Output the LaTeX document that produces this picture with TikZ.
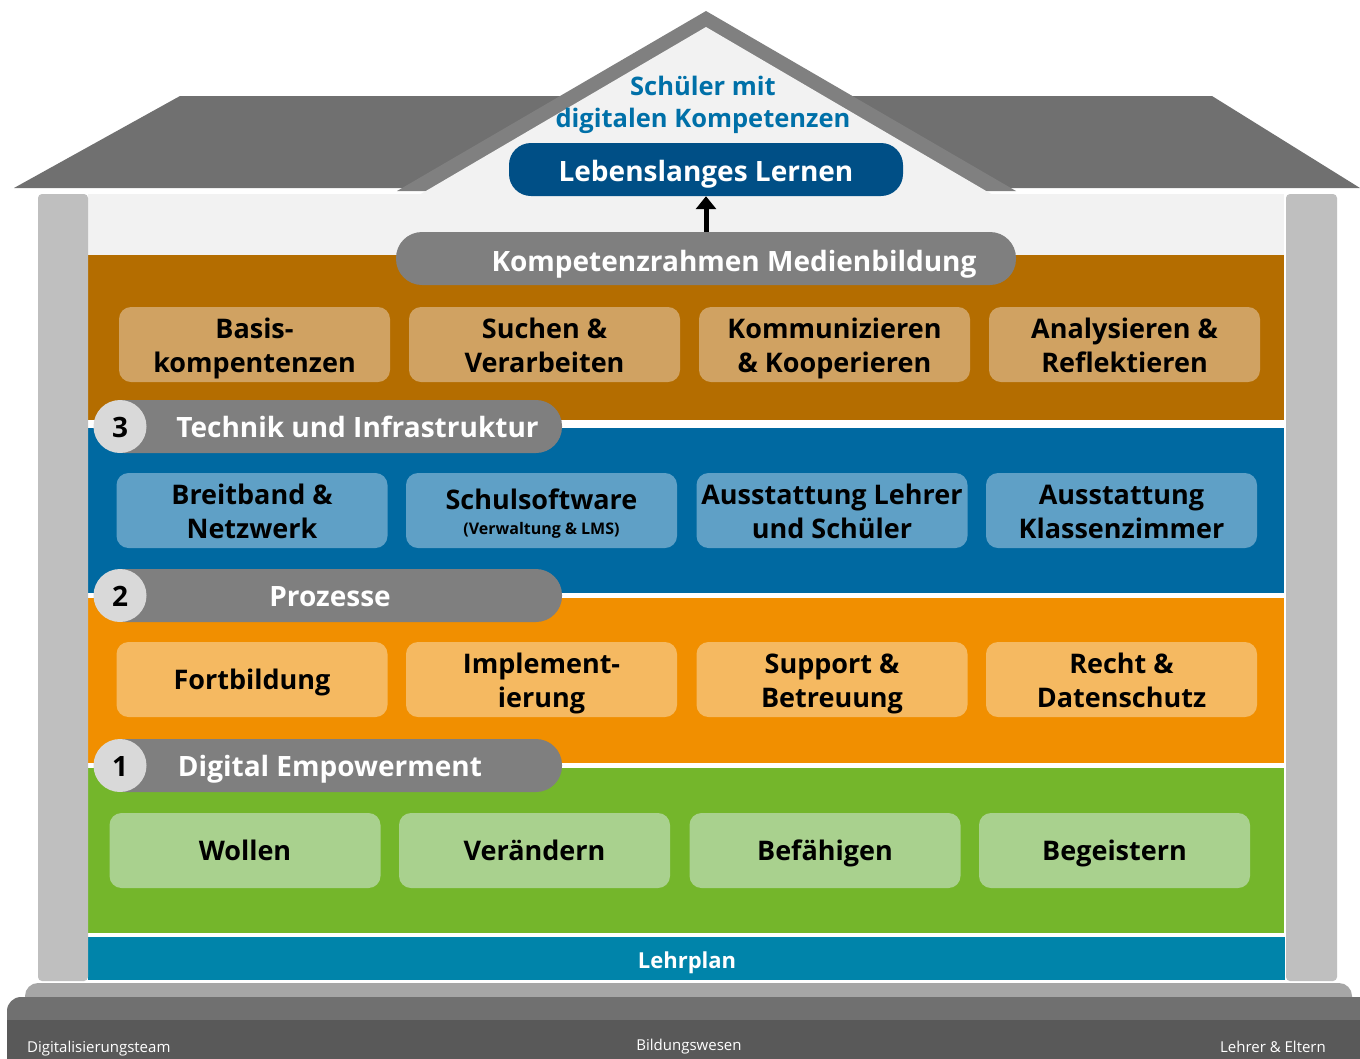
\documentclass[tikz,border=0pt]{standalone}
\usepackage{fontspec}
\setmainfont{Open Sans}
\usetikzlibrary{arrows.meta}
\definecolor{roofc}{HTML}{707070}
\definecolor{gablec}{HTML}{808080}
\definecolor{panelc}{HTML}{F2F2F2}
\definecolor{pillarc}{HTML}{BFBFBF}
\definecolor{brownband}{HTML}{B46D00}
\definecolor{brownbox}{HTML}{D0A262}
\definecolor{blueband}{HTML}{0069A1}
\definecolor{bluebox}{HTML}{5FA0C6}
\definecolor{orangeband}{HTML}{F18F00}
\definecolor{orangebox}{HTML}{F5B961}
\definecolor{greenband}{HTML}{74B62B}
\definecolor{greenbox}{HTML}{A9D18E}
\definecolor{lehrc}{HTML}{0084AA}
\definecolor{pillc}{HTML}{7F7F7F}
\definecolor{badgec}{HTML}{D9D9D9}
\definecolor{lebenc}{HTML}{004F86}
\definecolor{titlec}{HTML}{0070A8}
\definecolor{baseA}{HTML}{A6A6A6}
\definecolor{baseB}{HTML}{707070}
\definecolor{baseC}{HTML}{595959}
\newcommand\bxf{\fontsize{27}{34}\selectfont\bfseries}
\newcommand\pif{\fontsize{28}{34}\selectfont\bfseries}
\newcommand\lift{\rule{0pt}{30pt}}
\newcommand\lone{\rule{0pt}{28.5pt}}
\newcommand\dn{\rule[-8pt]{0pt}{8pt}}
\begin{document}
\begin{tikzpicture}[x=1pt,y=-1pt,
  box/.style={rounded corners=12pt, minimum width=271pt, minimum height=75pt, inner sep=0pt,
    align=center, font=\bxf, text=black},
  pill/.style={fill=pillc, rounded corners=26pt, minimum height=53pt, inner sep=0pt},
  pilltext/.style={anchor=base, text=white, font=\pif, inner sep=0pt},
  badge/.style={circle, fill=badgec, minimum size=53pt, inner sep=0pt},
  num/.style={anchor=base, font=\pif, text=black, inner sep=0pt},
  basetext/.style={anchor=base, text=white, font=\fontsize{15}{18}\selectfont, inner sep=0pt}
]
\useasboundingbox (0,0) rectangle (1360,1058);
\fill[white] (0,0) rectangle (1360,1058);
% roof
\fill[roofc] (14,188) -- (180,96) -- (1212,96) -- (1360,188) -- cycle;
% interior panel
\fill[panelc] (88,194) rectangle (1284,255);
% gable
\fill[gablec] (397,191) -- (706,11) -- (1016,191) -- cycle;
\fill[panelc] (419,195) -- (706,27) -- (993,195) -- cycle;
% bands
\fill[brownband] (88,255) rectangle (1284,420);
\fill[blueband] (88,428) rectangle (1284,593);
\fill[orangeband] (88,598) rectangle (1284,763);
\fill[greenband] (88,768) rectangle (1284,933);
\fill[lehrc] (88,937) rectangle (1285,980);
% pillars
\fill[pillarc, rounded corners=4pt] (38,194) rectangle (88,981);
\fill[pillarc, rounded corners=4pt] (1286,194) rectangle (1337,981);
% base
\fill[baseA, rounded corners=13pt] (25,983) rectangle (1352,1012);
\fill[baseB, rounded corners=14pt] (7,997) rectangle (1390,1090);
\fill[baseC] (7,1020) rectangle (1390,1090);

% top
\node[fill=lebenc, rounded corners=22pt, minimum width=394pt, minimum height=53pt, inner sep=0pt] (leb) at (706,169.5) {};
\node[pilltext] (lebt) at (706,181) {Lebenslanges Lernen};
\node[text=titlec, font=\fontsize{25.5}{32}\selectfont\bfseries, align=center, inner sep=0pt] (title) at (703,105) {Schüler mit\\digitalen Kompetenzen};
\node[pill, minimum width=620pt] (komp) at (706,258.5) {};
\node[pilltext] (kompt) at (734,271) {Kompetenzrahmen Medienbildung};
\draw[line width=5pt, -{Triangle[width=20pt,length=13pt]}] (komp.north) -- (leb.south);

% brown row
\node[box, fill=brownbox] (b1) at (254.5,344.5) {\lift Basis-\\kompentenzen\dn};
\node[box, fill=brownbox] (b2) at (544.5,344.5) {\lift Suchen \&\\Verarbeiten\dn};
\node[box, fill=brownbox] (b3) at (834.5,344.5) {\lift Kommunizieren\\\& Kooperieren\dn};
\node[box, fill=brownbox] (b4) at (1124.5,344.5) {\lift Analysieren \&\\Reflektieren\dn};

% level 3
\node[pill, minimum width=464pt] (p3) at (330,426.5) {};
\node[badge] (c3) at (120,426.5) {};
\node[num] (n3) at (120,437) {3};
\node[pilltext] (t3) at (357.5,437) {Technik und Infrastruktur};
\node[box, fill=bluebox] (s1) at (252,510.5) {\lift Breitband \&\\Netzwerk\dn};
\node[box, fill=bluebox] (s2) at (541.5,510.5) {\lift Schulsoftware\\[-9pt]{\fontsize{16}{18}\selectfont (Verwaltung \& LMS)\dn}};
\node[box, fill=bluebox] (s3) at (832,510.5) {\lift Ausstattung Lehrer\\und Schüler\dn};
\node[box, fill=bluebox] (s4) at (1121.5,510.5) {\lift Ausstattung\\Klassenzimmer\dn};

% level 2
\node[pill, minimum width=464pt] (p2) at (330,595.5) {};
\node[badge] (c2) at (120,595.5) {};
\node[num] (n2) at (120,606) {2};
\node[pilltext] (t2) at (330,606) {Prozesse};
\node[box, fill=orangebox] (o1) at (252,679.5) {\lone Fortbildung\dn};
\node[box, fill=orangebox] (o2) at (541.5,679.5) {\lift Implement-\\ierung\dn};
\node[box, fill=orangebox] (o3) at (832,679.5) {\lift Support \&\\Betreuung\dn};
\node[box, fill=orangebox] (o4) at (1121.5,679.5) {\lift Recht \&\\Datenschutz\dn};

% level 1
\node[pill, minimum width=464pt] (p1) at (330,765.5) {};
\node[badge] (c1) at (120,765.5) {};
\node[num] (n1) at (120,776) {1};
\node[pilltext] (t1) at (330,776) {Digital Empowerment};
\node[box, fill=greenbox] (g1) at (245,850.5) {\lone Wollen\dn};
\node[box, fill=greenbox] (g2) at (534.5,850.5) {\lone Verändern\dn};
\node[box, fill=greenbox] (g3) at (825,850.5) {\lone Befähigen\dn};
\node[box, fill=greenbox] (g4) at (1114.5,850.5) {\lone Begeistern\dn};

% foundation
\node[anchor=base, text=white, font=\fontsize{22}{26}\selectfont\bfseries, inner sep=0pt] (lehr) at (687,968) {Lehrplan};
\node[basetext, anchor=base west] (bt1) at (27,1052) {Digitalisierungsteam};
\node[basetext] (bt2) at (689,1050) {Bildungswesen};
\node[basetext, anchor=base east] (bt3) at (1326,1052) {Lehrer \& Eltern};
\end{tikzpicture}
\end{document}
